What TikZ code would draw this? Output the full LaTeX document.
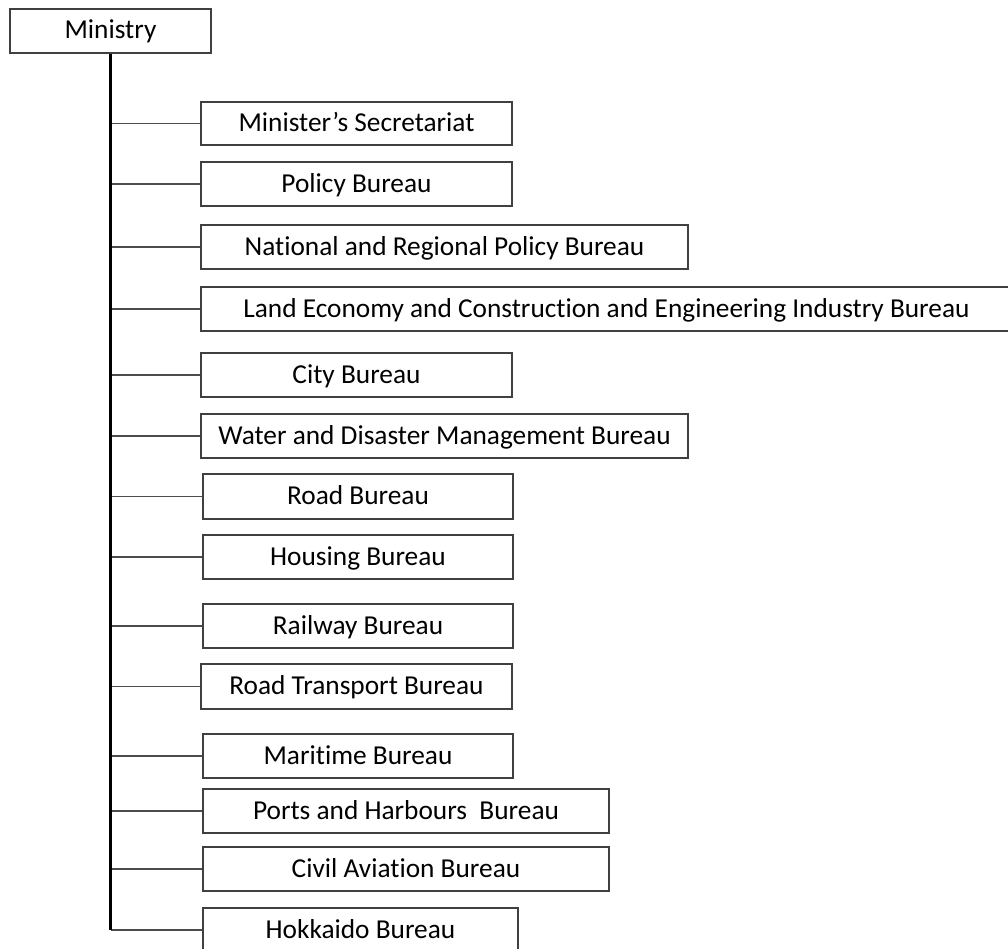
\documentclass[tikz,border=0pt]{standalone}
\usepackage{fontspec}
\setmainfont[Ligatures=NoCommon]{Carlito}
\begin{document}
\begin{tikzpicture}[x=0.75pt,y=-0.75pt,
  unit/.style={draw=black!75,line width=0.8pt,inner sep=0pt,anchor=center,
    font=\fontsize{20.5}{24}\selectfont,text=black,
    text height=16pt,text depth=4pt},
  branch/.style={draw=black!70,line width=0.8pt},
  trunk/.style={draw=black,line width=1.6pt}]
\useasboundingbox (0,0) rectangle (1008,949);
% box(name, left, right, top, bottom, label)
\newcommand\orgbox[6]{%
  \node[unit,minimum width={(#3-#2)*0.75pt},minimum height={(#5-#4)*0.75pt}]
    (#1) at ({(#2+#3)/2},{(#4+#5)/2}) {#6};}
\orgbox{min}{10}{211}{9}{53}{Ministry}
\orgbox{sec}{201}{512}{102}{145}{Minister’s Secretariat}
\orgbox{pol}{201}{512}{162}{206}{Policy Bureau}
\orgbox{nrp}{201}{688}{225}{269}{National and Regional Policy Bureau}
\orgbox{lec}{201}{1012}{287}{331}{Land Economy and Construction and Engineering Industry Bureau}
\orgbox{city}{201}{512}{353}{397}{City Bureau}
\orgbox{wdm}{201}{688}{414}{458}{Water and Disaster Management Bureau}
\orgbox{road}{203}{513}{474}{519}{Road Bureau}
\orgbox{hou}{203}{513}{535}{579}{Housing Bureau}
\orgbox{rail}{203}{513}{604}{648}{Railway Bureau}
\orgbox{rtb}{201}{512}{664}{709}{Road Transport Bureau}
\orgbox{mar}{203}{513}{734}{778}{Maritime Bureau}
\orgbox{port}{203}{609}{789}{833}{Ports and Harbours\ \ Bureau}
\orgbox{cab}{203}{609}{847}{891}{Civil Aviation Bureau}
\orgbox{hok}{203}{518}{908}{952}{Hokkaido Bureau}
% branches from the vertical trunk to each bureau
\foreach \b in {sec,pol,nrp,lec,city,wdm,road,hou,rail,rtb,mar,port,cab}
  \draw[branch] (min.south |- \b.west) -- (\b.west);
\draw[branch] (min.south |- hok.west) -- (hok.west);
\draw[trunk] (min.south) -- (min.south |- hok.west);
\end{tikzpicture}
\end{document}
